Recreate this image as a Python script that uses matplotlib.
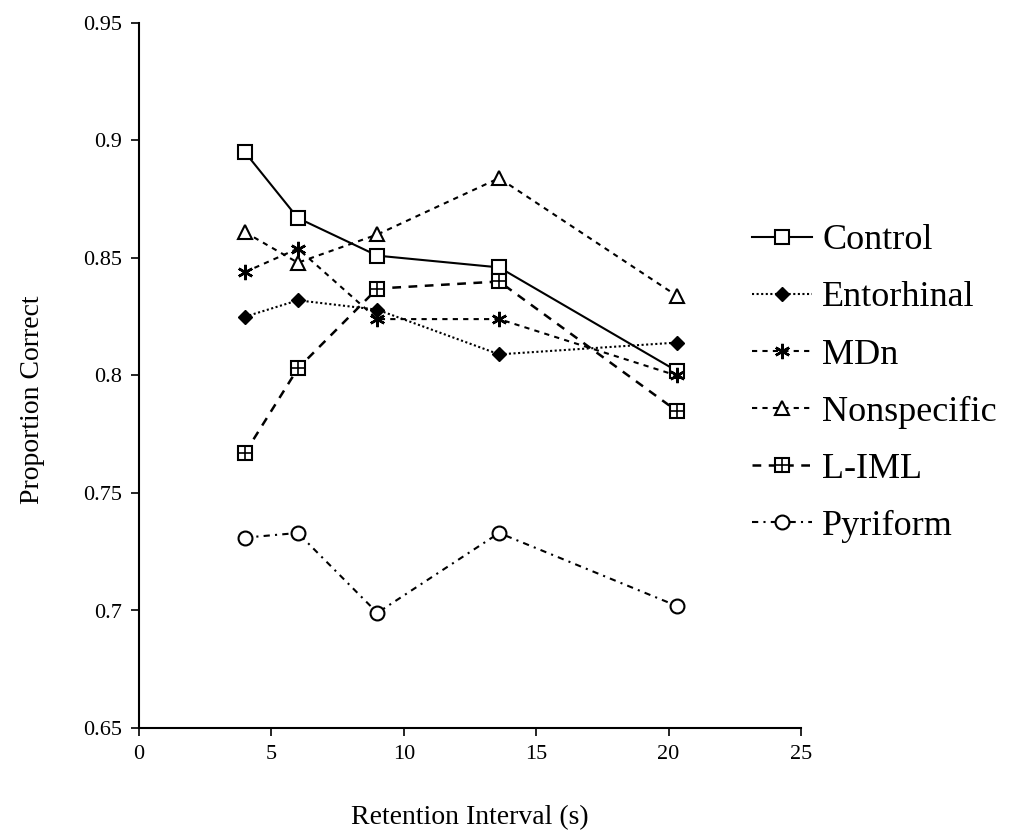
import matplotlib
matplotlib.use("Agg")
import matplotlib.pyplot as plt
from matplotlib.legend_handler import HandlerTuple

plt.rcParams['font.family'] = ['Liberation Serif', 'DejaVu Serif']

# Data
intervals = [4, 6, 9, 13.6, 20.3]
control = [0.895, 0.867, 0.851, 0.846, 0.802]
entorhinal = [0.825, 0.832, 0.828, 0.809, 0.814]
mdn = [0.844, 0.854, 0.824, 0.824, 0.800]
nonspecific = [0.861, 0.848, 0.860, 0.884, 0.834]
liml = [0.767, 0.803, 0.837, 0.840, 0.785]
pyriform = [0.731, 0.733, 0.699, 0.733, 0.702]

x_ticks = [0, 5, 10, 15, 20, 25]
x_tick_labels = ["0", "5", "10", "15", "20", "25"]
y_ticks = [0.65, 0.7, 0.75, 0.8, 0.85, 0.9, 0.95]
y_tick_labels = ["0.65", "0.7", "0.75", "0.8", "0.85", "0.9", "0.95"]

W, H = 1015, 836
fig = plt.figure(figsize=(W / 100, H / 100), dpi=100)
ax = fig.add_axes([139 / W, 1 - 728 / H, (801 - 139) / W, (728 - 23) / H])

lw = 1.5
ms = 10
h_control, = ax.plot(intervals, control, color='black', lw=lw, ls='-',
                     marker='s', ms=ms, mfc='white', mec='black', mew=1.5)
h_ent, = ax.plot(intervals, entorhinal, color='black', lw=lw, ls=(0, (1, 1.2)),
                 marker='D', ms=7, mfc='black', mec='black')
h_mdn, = ax.plot(intervals, mdn, color='black', lw=lw, ls=(0, (2.5, 2.5)),
                 marker=(6, 2, 0), ms=11, mec='black', mew=1.8)
h_non, = ax.plot(intervals, nonspecific, color='black', lw=lw, ls=(0, (2.5, 2.5)),
                 marker='^', ms=10, mfc='white', mec='black', mew=1.5)
h_liml, = ax.plot(intervals, liml, color='black', lw=lw + 0.3, ls=(0, (3.5, 3)),
                  marker='s', ms=ms, mfc='white', mec='black', mew=1.5)
h_liml_plus, = ax.plot(intervals, liml, ls='none', marker='+', ms=ms,
                       mec='black', mew=1.2)
h_pyr, = ax.plot(intervals, pyriform, color='black', lw=lw, ls=(0, (3, 2.5, 1, 2.5)),
                 marker='o', ms=10, mfc='white', mec='black', mew=1.5)

ax.set_xlim(0, 25)
ax.set_ylim(0.65, 0.95)
ax.set_xticks(x_ticks)
ax.set_xticklabels(x_tick_labels)
ax.set_yticks(y_ticks)
ax.set_yticklabels(y_tick_labels)
ax.tick_params(direction='out', length=6, width=1.2, labelsize=16, pad=6)
for s in ['top', 'right']:
    ax.spines[s].set_visible(False)
for s in ['left', 'bottom']:
    ax.spines[s].set_linewidth(1.5)

ax.set_xlabel("Retention Interval (s)", fontsize=20, labelpad=30)
ax.set_ylabel("Proportion Correct", fontsize=20)
ax.yaxis.set_label_coords((45 - 139) / (801 - 139), (728 - 400) / (728 - 23))

handles = [h_control, h_ent, h_mdn, h_non, (h_liml, h_liml_plus), h_pyr]
labels = ["Control", "Entorhinal", "MDn", "Nonspecific", "L-IML", "Pyriform"]
leg = fig.legend(handles, labels, loc='upper left',
                 bbox_to_anchor=(734 / W, 1 - 206 / H),
                 frameon=False, fontsize=26, handlelength=1.66,
                 handletextpad=0.28, labelspacing=0.66, borderpad=0,
                 handler_map={tuple: HandlerTuple(ndivide=1, pad=0)})

fig.savefig("out.png", dpi=100)
